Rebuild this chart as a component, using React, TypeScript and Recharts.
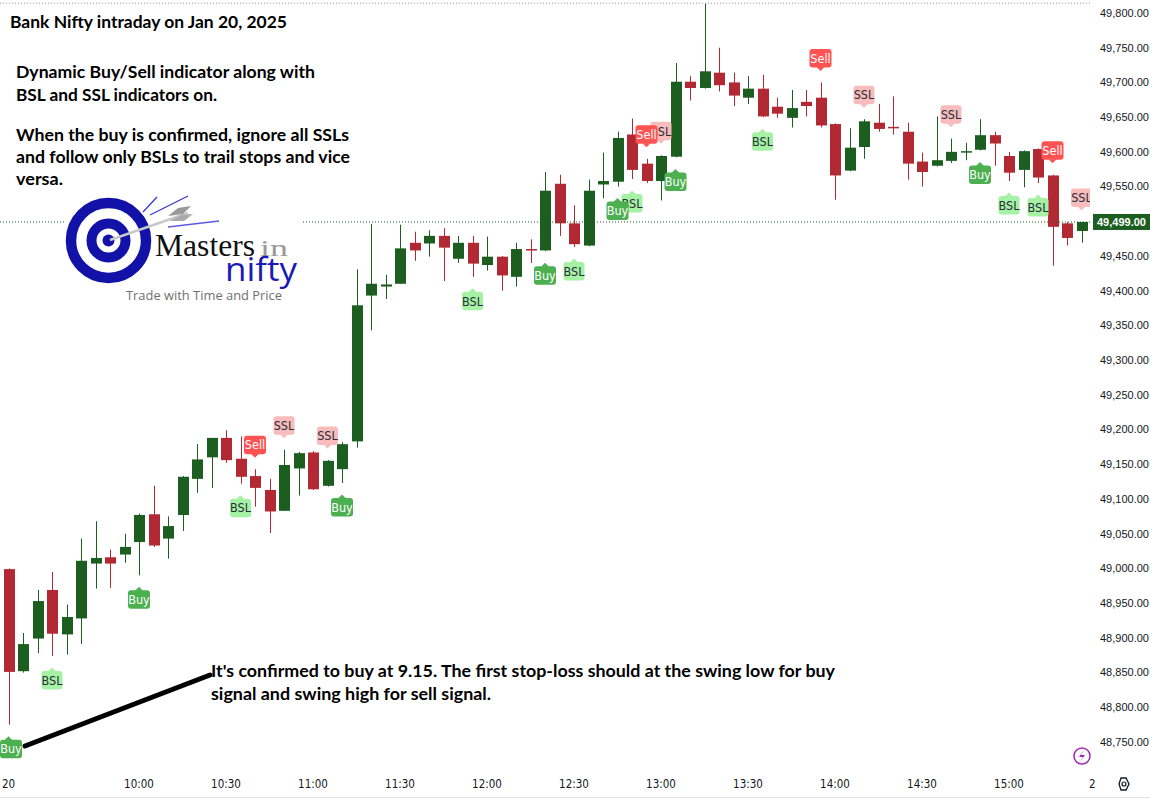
import { ComposedChart, Bar, Scatter, XAxis, YAxis, ReferenceLine } from "recharts";

// 5-minute candles, 09:15 .. 15:25
const opens = [
  48999, 48852, 48899, 48969, 48905, 48928, 49007, 49016, 49020, 49038,
  49078, 49043, 49077, 49129, 49160, 49188, 49158, 49133, 49113, 49083,
  49144, 49167, 49119, 49143, 49183, 49393, 49406, 49410, 49469, 49468,
  49479, 49446, 49469, 49437, 49449, 49420, 49460, 49458, 49554, 49497,
  49465, 49553, 49557, 49625, 49583, 49558, 49593, 49701, 49692, 49714,
  49700, 49678, 49691, 49665, 49649, 49672, 49678, 49640, 49573, 49607,
  49642, 49636, 49629, 49586, 49580, 49587, 49599, 49603, 49624, 49594,
  49574, 49604, 49566, 49497, 49486,
];
const highs = [
  49000, 48907, 48969, 48995, 48948, 49043, 49068, 49027, 49050, 49079,
  49119, 49075, 49133, 49179, 49188, 49199, 49190, 49143, 49129, 49171,
  49168, 49169, 49156, 49182, 49431, 49496, 49423, 49495, 49485, 49487,
  49490, 49479, 49479, 49478, 49450, 49469, 49474, 49571, 49567, 49523,
  49560, 49599, 49629, 49648, 49590, 49595, 49728, 49709, 49814, 49750,
  49714, 49709, 49711, 49678, 49689, 49689, 49700, 49641, 49634, 49647,
  49669, 49680, 49642, 49599, 49651, 49619, 49613, 49647, 49629, 49600,
  49602, 49605, 49567, 49499, 49499,
];
const lows = [
  48775, 48850, 48878, 48874, 48876, 48891, 48971, 48972, 49008, 48990,
  49031, 49014, 49054, 49109, 49116, 49152, 49122, 49089, 49051, 49083,
  49105, 49113, 49118, 49123, 49174, 49343, 49388, 49410, 49443, 49449,
  49414, 49440, 49420, 49429, 49400, 49406, 49440, 49457, 49479, 49463,
  49464, 49533, 49550, 49561, 49555, 49530, 49592, 49674, 49691, 49687,
  49666, 49669, 49650, 49649, 49635, 49651, 49635, 49531, 49572, 49590,
  49629, 49625, 49560, 49550, 49579, 49584, 49588, 49602, 49580, 49558,
  49549, 49555, 49436, 49465, 49469,
];
const closes = [
  48851, 48891, 48953, 48906, 48930, 49011, 49015, 49007, 49031, 49077,
  49033, 49061, 49132, 49157, 49188, 49156, 49132, 49116, 49082, 49149,
  49166, 49114, 49155, 49179, 49379, 49410, 49409, 49461, 49458, 49479,
  49462, 49469, 49439, 49449, 49422, 49460, 49458, 49544, 49497, 49467,
  49544, 49558, 49620, 49574, 49558, 49594, 49701, 49692, 49716, 49696,
  49681, 49691, 49651, 49655, 49663, 49666, 49638, 49566, 49606, 49644,
  49633, 49634, 49583, 49571, 49588, 49600, 49601, 49624, 49612, 49570,
  49601, 49563, 49492, 49476, 49499,
];

const tickIdx = [0, 9, 15, 21, 27, 33, 39, 45, 51, 57, 63, 69];
const tickLabels = ["20", "10:00", "10:30", "11:00", "11:30", "12:00", "12:30", "13:00", "13:30", "14:00", "14:30", "15:00"];
// 49,500 sits under the last-price tag, so it isn't listed
const priceTicks = [
  48750, 48800, 48850, 48900, 48950, 49000, 49050, 49100, 49150, 49200, 49250,
  49300, 49350, 49400, 49450, 49550, 49600, 49650, 49700, 49750, 49800,
];
const lastPrice = 49499;
const dayHigh = 49814;

// signal tags (candle index)
const buyAt = [0, 9, 23, 37, 42, 46, 67];
const bslAt = [3, 16, 32, 39, 43, 52, 69, 71];
const sellAt = [17, 44, 56, 72];
const sslAt = [19, 22, 45, 59, 65, 74];

const UP = "#1b5e20";
const DOWN = "#b22833";
const AXIS_FONT = "'Liberation Sans', Arial, sans-serif";
const NARROW = "'Liberation Sans Narrow', 'DejaVu Sans Condensed', 'Liberation Sans', sans-serif";
const NOTE_FONT = "Lato, 'Open Sans', sans-serif";
const BLUE = "#1212a8";

const candles = opens.map((o, i) => ({
  i,
  open: o,
  high: highs[i],
  low: lows[i],
  close: closes[i],
  range: [lows[i], highs[i]],
}));

function Candle(props: any) {
  const { x, y, width, height, payload } = props;
  const top0 = Math.min(y, y + height);
  const h = Math.abs(height);
  const k = h / (payload.high - payload.low);
  const yOf = (p: number) => top0 + (payload.high - p) * k;
  const up = payload.close >= payload.open;
  const color = up ? UP : DOWN;
  const cx = Math.round(x + width / 2) + 0.5;
  const bTop = yOf(Math.max(payload.open, payload.close));
  const bBot = yOf(Math.min(payload.open, payload.close));
  return (
    <g>
      <line x1={cx} x2={cx} y1={top0} y2={top0 + h} stroke={color} strokeWidth={1} />
      <rect x={cx - 5.5} y={bTop} width={11} height={Math.max(bBot - bTop, 1.5)} fill={color} />
    </g>
  );
}

function makeTag(text: string, bg: string, fg: string, below: boolean, w: number) {
  return (props: any) => {
    const { cx, cy } = props;
    const h = 18.5;
    const top = below ? cy + 15 : cy - 15 - h;
    const tip = below ? cy + 11.5 : cy - 11.5;
    const base = below ? top + 0.5 : top + h - 0.5;
    const left = Math.max(cx - w / 2, 0);
    return (
      <g>
        <path d={`M${cx - 4},${base} L${cx},${tip} L${cx + 4},${base} Z`} fill={bg} />
        <rect x={left} y={top} width={w} height={h} rx={3} fill={bg} />
        <text
          x={left + w / 2}
          y={top + h / 2 + 4.5}
          textAnchor="middle"
          fontFamily={NARROW}
          fontSize={12.5}
          fill={fg}
        >
          {text}
        </text>
      </g>
    );
  };
}

const buyTag = makeTag("Buy", "#4caf50", "#ffffff", true, 22);
const bslTag = makeTag("BSL", "#a5f2a5", "#2a2e39", true, 21);
const sellTag = makeTag("Sell", "#ff5252", "#ffffff", false, 22);
const sslTag = makeTag("SSL", "#f8bcbc", "#2a2e39", false, 21);

function PriceTag(props: any) {
  const vb = props.viewBox || {};
  const x = vb.x + vb.width + 3;
  const y = vb.y;
  return (
    <g>
      <rect x={x} y={y - 8} width={60} height={16} fill={UP} />
      <text x={x + 4} y={y + 4} fontFamily={AXIS_FONT} fontWeight="bold" fontSize={11} fill="#ffffff">
        {lastPrice.toLocaleString("en-US", { minimumFractionDigits: 2 })}
      </text>
    </g>
  );
}

function Notes() {
  return (
    <svg
      width={1150}
      height={800}
      style={{ position: "absolute", left: 0, top: 0, pointerEvents: "none" }}
    >
      <g fontFamily={NOTE_FONT} fontWeight="bold" fill="#000" fontSize={17}>
        <text x={10} y={28} textLength={277} lengthAdjust="spacingAndGlyphs">
          Bank Nifty intraday on Jan 20, 2025
        </text>
        <text x={16} y={78} textLength={299} lengthAdjust="spacingAndGlyphs">
          Dynamic Buy/Sell indicator along with
        </text>
        <text x={16} y={101} textLength={201} lengthAdjust="spacingAndGlyphs">
          BSL and SSL indicators on.
        </text>
        <text x={16} y={141} textLength={333} lengthAdjust="spacingAndGlyphs">
          When the buy is confirmed, ignore all SSLs
        </text>
        <text x={16} y={163} textLength={334} lengthAdjust="spacingAndGlyphs">
          and follow only BSLs to trail stops and vice
        </text>
        <text x={16} y={185} textLength={47} lengthAdjust="spacingAndGlyphs">
          versa.
        </text>
        <text x={211} y={677} textLength={624} lengthAdjust="spacingAndGlyphs">
          It's confirmed to buy at 9.15. The first stop-loss should at the swing low for buy
        </text>
        <text x={211} y={700} textLength={280} lengthAdjust="spacingAndGlyphs">
          signal and swing high for sell signal.
        </text>
      </g>

      <line x1={25} y1={746} x2={210} y2={675} stroke="#000" strokeWidth={5} strokeLinecap="round" />

      {/* logo */}
      <rect x={64} y={188} width={238} height={118} fill="#fff" />
      <circle cx={108.5} cy={240.5} r={37.5} fill="none" stroke={BLUE} strokeWidth={10.5} />
      <circle cx={108.5} cy={240.5} r={17} fill="none" stroke={BLUE} strokeWidth={10} />
      <circle cx={108.5} cy={240.5} r={6} fill={BLUE} />
      <line x1={143} y1={212} x2={157} y2={197} stroke="#3a3ad0" strokeWidth={1.3} />
      <line x1={150} y1={215} x2={188} y2={196} stroke="#3a3ad0" strokeWidth={1.3} />
      <line x1={168} y1={227} x2={219} y2={221} stroke="#5a5ae0" strokeWidth={1.3} />
      <line x1={110} y1={240} x2={188} y2={213} stroke="#c8c8c8" strokeWidth={2.5} />
      <path d="M168,216 L178,208 L191,206 L183,214 Z" fill="#9a9a9a" />
      <path d="M170,221 L181,215 L193,214 L184,221 Z" fill="#aaaaaa" />
      <text x={155} y={256} fontFamily="'Liberation Serif', serif" fontSize={31} fill="#111" textLength={100} lengthAdjust="spacingAndGlyphs">
        Masters
      </text>
      <text x={260} y={256} fontFamily="'Liberation Serif', serif" fontSize={23} fill="#9a9a9a" textLength={28} lengthAdjust="spacingAndGlyphs">
        in
      </text>
      <text x={225} y={281} fontFamily="'Open Sans', sans-serif" fontSize={33} fill="#1a1ab4" textLength={72} lengthAdjust="spacingAndGlyphs">
        nifty
      </text>
      <text x={126} y={300} fontFamily="'Open Sans', sans-serif" fontSize={13.5} fill="#707070" textLength={156} lengthAdjust="spacingAndGlyphs">
        Trade with Time and Price
      </text>

      {/* chart chrome */}
      <circle cx={1082} cy={756} r={8} fill="#fff" stroke="#9c27b0" strokeWidth={1.5} />
      <path d="M1084,750 L1079,757 L1083,757 L1080,762 L1085,755 L1081,755 Z" fill="#9c27b0" />
      <path d="M1119,784 L1121,778 L1126,778 L1129,784 L1126,790 L1121,790 Z" fill="none" stroke="#131722" strokeWidth={1.3} />
      <circle cx={1124} cy={784} r={2} fill="none" stroke="#131722" strokeWidth={1.2} />
      <text x={1089} y={788} fontFamily={NARROW} fontSize={11.5} fill="#131722">2</text>
      <line x1={0} y1={797.5} x2={1150} y2={797.5} stroke="#e0e3eb" strokeWidth={1} />
    </svg>
  );
}

export default function App() {
  return (
    <div style={{ position: "absolute", left: 0, top: 0, width: 1150, height: 800, background: "#fff" }}>
      <ComposedChart
        width={1150}
        height={800}
        data={candles}
        margin={{ top: 0, right: 0, bottom: 0, left: 0 }}
      >
        <XAxis
          type="number"
          dataKey="i"
          domain={[-0.586, 74.586]}
          allowDataOverflow
          ticks={tickIdx}
          interval={0}
          tickFormatter={(v: number) => tickLabels[tickIdx.indexOf(v)] ?? ""}
          axisLine={false}
          tickLine={false}
          height={28}
          tick={{ fill: "#131722", fontSize: 11.5, fontFamily: NARROW }}
        />
        <YAxis
          orientation="right"
          width={60}
          domain={[48706.8, 49818.7]}
          allowDataOverflow
          ticks={priceTicks}
          interval={0}
          tickFormatter={(v: number) => v.toLocaleString("en-US", { minimumFractionDigits: 2 })}
          axisLine={false}
          tickLine={false}
          tickMargin={4}
          tick={{ fill: "#131722", fontSize: 11, fontFamily: AXIS_FONT }}
        />
        <ReferenceLine y={dayHigh} stroke="#9598a1" strokeDasharray="1 2" />
        <ReferenceLine
          y={lastPrice}
          stroke={UP}
          strokeDasharray="1 2"
          label={(p: any) => <PriceTag {...p} />}
        />
        <Bar dataKey="range" barSize={11} shape={<Candle />} isAnimationActive={false} />
        <Scatter data={bslAt.map((i) => ({ i, p: lows[i] }))} dataKey="p" shape={bslTag} isAnimationActive={false} />
        <Scatter data={sslAt.map((i) => ({ i, p: highs[i] }))} dataKey="p" shape={sslTag} isAnimationActive={false} />
        <Scatter data={buyAt.map((i) => ({ i, p: lows[i] }))} dataKey="p" shape={buyTag} isAnimationActive={false} />
        <Scatter data={sellAt.map((i) => ({ i, p: highs[i] }))} dataKey="p" shape={sellTag} isAnimationActive={false} />
      </ComposedChart>
      <Notes />
    </div>
  );
}
